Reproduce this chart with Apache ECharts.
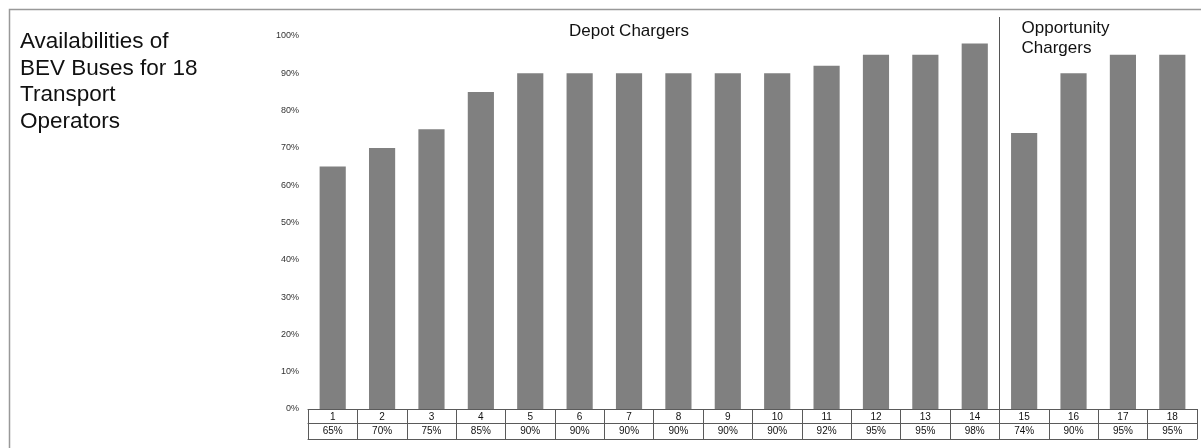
<!DOCTYPE html>
<html><head><meta charset="utf-8">
<script src="https://cdn.jsdelivr.net/npm/echarts@6/dist/echarts.min.js"></script>
<style>html,body{margin:0;padding:0;background:#fff}#c{width:1201px;height:448px}</style>
</head><body><div id="c"></div>
<script>
const operators = ['1','2','3','4','5','6','7','8','9','10','11','12','13','14','15','16','17','18'];
const availability = [65,70,75,85,90,90,90,90,90,90,92,95,95,98,74,90,95,95];
const pctLabels = ['65%','70%','75%','85%','90%','90%','90%','90%','90%','90%','92%','95%','95%','98%','74%','90%','95%','95%'];
const yTicks = [0,10,20,30,40,50,60,70,80,90,100];
const groupLabels = ['Depot Chargers','Opportunity\nChargers'];
const titleText = 'Availabilities of\nBEV Buses for 18\nTransport\nOperators';

const chart = echarts.init(document.getElementById('c'), null, {renderer:'canvas'});
const ff = 'Liberation Sans, Arial, sans-serif';
const lineCol = '#5a5a5a';
chart.setOption({
  animation:false,
  textStyle:{fontFamily:ff},
  grid:{left:308,right:4,top:36,bottom:39,containLabel:false},
  xAxis:[
    {type:'category',data:operators,position:'bottom',
     axisLine:{show:true,lineStyle:{color:lineCol,width:1}},
     axisTick:{show:true,inside:false,length:30,lineStyle:{color:lineCol}},
     axisLabel:{margin:3,fontSize:10,color:'#111',fontFamily:ff}},
    {type:'category',data:pctLabels,position:'bottom',offset:14,
     axisLine:{show:true,lineStyle:{color:lineCol,width:1}},
     axisTick:{show:false},
     axisLabel:{margin:3,fontSize:10,color:'#111',fontFamily:ff}},
    {type:'category',data:operators,position:'bottom',offset:30,
     axisLine:{show:true,lineStyle:{color:lineCol,width:1}},
     axisTick:{show:false},axisLabel:{show:false}}
  ],
  yAxis:{type:'value',min:yTicks[0],max:yTicks[yTicks.length-1],interval:10,
    axisLine:{show:false},axisTick:{show:false},splitLine:{show:false},
    axisLabel:{margin:9,fontSize:9,color:'#333',fontFamily:ff,formatter:v=>v+'%'}},
  series:[{type:'bar',data:availability,xAxisIndex:0,barWidth:'53%',
    itemStyle:{color:'#808080'}}]
});

const x14 = chart.convertToPixel({xAxisIndex:0}, operators[13]);
const x15 = chart.convertToPixel({xAxisIndex:0}, operators[14]);
const sepX = Math.round((x14+x15)/2)+0.5;
const xDepot = chart.convertToPixel({xAxisIndex:0}, operators[6]);
chart.setOption({graphic:[
  {type:'rect',shape:{x:9.5,y:9.5,width:1200,height:460},style:{fill:'none',stroke:'#999',lineWidth:1.5},silent:true},
  {type:'line',shape:{x1:sepX,y1:17,x2:sepX,y2:439},style:{stroke:'#555',lineWidth:1}},
  {type:'text',x:20,y:29,style:{text:titleText,font:'22.5px '+ff,fill:'#111',lineHeight:26.5}},
  {type:'text',x:xDepot,y:23,style:{text:groupLabels[0],font:'17px '+ff,fill:'#111',align:'center'}},
  {type:'text',x:sepX+22,y:18,style:{text:groupLabels[1],font:'17px '+ff,fill:'#111',lineHeight:20}}
]});
</script></body></html>
